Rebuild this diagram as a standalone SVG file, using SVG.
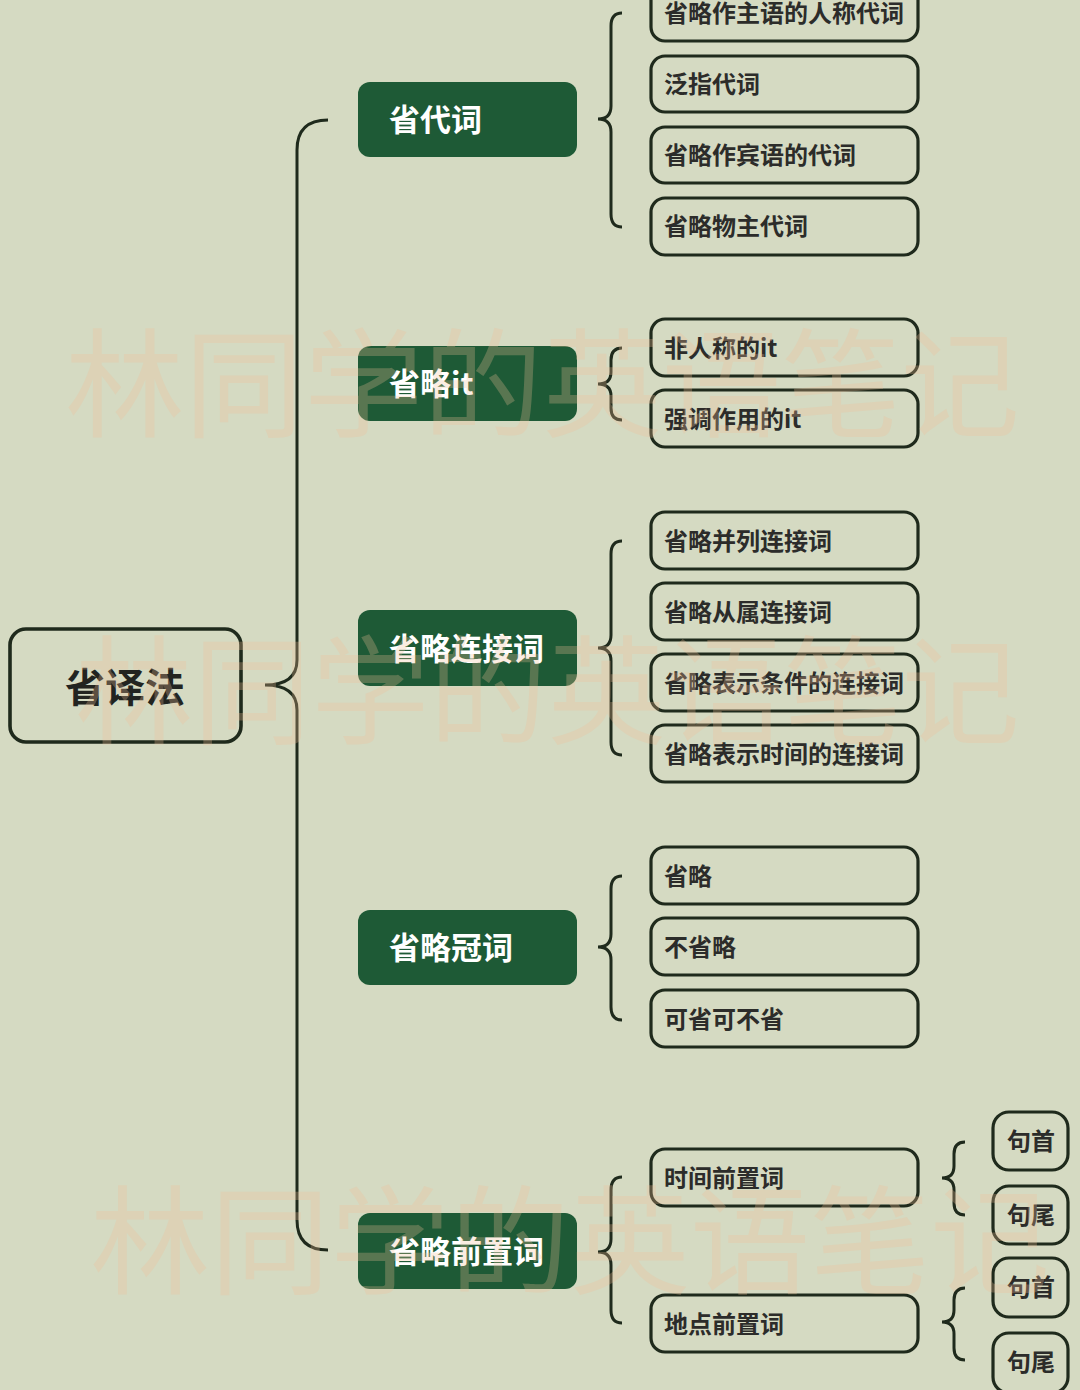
<svg xmlns="http://www.w3.org/2000/svg" width="1080" height="1390" viewBox="0 0 1080 1390">
<style>
.bg{fill:#d5dac2}
.l1 rect{fill:#1e5a36;stroke:none}
.l1 text{fill:#ffffff;font-family:"Noto Sans CJK SC","Noto Sans",sans-serif;font-weight:700;font-size:31px}
.leaf rect{fill:none;stroke:#1f2a1c;stroke-width:3.2}
.leaf text{fill:#2c2c2a;font-family:"Noto Sans CJK SC","Noto Sans",sans-serif;font-weight:700;font-size:24px}
.sub text{text-anchor:middle}
#connectors path{fill:none;stroke:#1f2a1c;stroke-width:3}
.wm{fill:#f2bf98;opacity:0.28;font-family:"Noto Sans CJK SC",sans-serif;font-weight:400;font-size:118px}
</style>
<rect class="bg" x="0" y="0" width="1080" height="1390"/>

<g id="connectors">
  <path d="M328,120 Q297,120 297,150 L297,660 Q297,685 265,685 Q297,685 297,710 L297,1220 Q297,1250 328,1250" stroke-width="3.6"/>
  <path d="M622,13 Q611,13 611,26 L611,106 Q611,119 598,119 Q611,119 611,132 L611,214 Q611,227 622,227"/>
  <path d="M622,348 Q611,348 611,360 L611,372 Q611,384 598,384 Q611,384 611,396 L611,408 Q611,420 622,420"/>
  <path d="M622,541 Q611,541 611,554 L611,635 Q611,648 598,648 Q611,648 611,661 L611,742 Q611,755 622,755"/>
  <path d="M622,876 Q611,876 611,889 L611,934 Q611,947 598,947 Q611,947 611,960 L611,1007 Q611,1020 622,1020"/>
  <path d="M622,1177 Q611,1177 611,1190 L611,1239 Q611,1252 598,1252 Q611,1252 611,1265 L611,1310 Q611,1323 622,1323"/>
  <path d="M965,1142 Q954,1142 954,1154 L954,1166 Q954,1178 942,1178 Q954,1178 954,1190 L954,1203 Q954,1215 965,1215"/>
  <path d="M965,1288 Q954,1288 954,1300 L954,1310 Q954,1322 942,1322 Q954,1322 954,1334 L954,1348 Q954,1360 965,1360"/>
</g>

<g id="root">
  <rect x="10" y="629" width="231" height="113" rx="16" fill="none" stroke="#1f2a1c" stroke-width="3.6"/>
  <text x="125" y="702" text-anchor="middle" fill="#222420" font-family="Noto Sans CJK SC, Noto Sans, sans-serif" font-weight="700" font-size="40">省译法</text>
</g>

<g id="n-daici" class="l1"><rect x="358" y="82" width="219" height="75" rx="12"/><text x="389" y="131">省代词</text></g>
<g id="n-it" class="l1"><rect x="358" y="346" width="219" height="75" rx="12"/><text x="389" y="395">省略it</text></g>
<g id="n-lianjie" class="l1"><rect x="358" y="610" width="219" height="76" rx="12"/><text x="389" y="660">省略连接词</text></g>
<g id="n-guanci" class="l1"><rect x="358" y="910" width="219" height="75" rx="12"/><text x="389" y="959">省略冠词</text></g>
<g id="n-qianzhi" class="l1"><rect x="358" y="1213" width="219" height="76" rx="12"/><text x="389" y="1263">省略前置词</text></g>

<g id="leaf1" class="leaf"><rect x="651" y="-16" width="267" height="57" rx="14"/><text x="664" y="22">省略作主语的人称代词</text></g>
<g id="leaf2" class="leaf"><rect x="651" y="56" width="267" height="56" rx="14"/><text x="664" y="93">泛指代词</text></g>
<g id="leaf3" class="leaf"><rect x="651" y="127" width="267" height="56" rx="14"/><text x="664" y="164">省略作宾语的代词</text></g>
<g id="leaf4" class="leaf"><rect x="651" y="198" width="267" height="57" rx="14"/><text x="664" y="235">省略物主代词</text></g>

<g id="leaf5" class="leaf"><rect x="651" y="319" width="267" height="57" rx="14"/><text x="664" y="357">非人称的it</text></g>
<g id="leaf6" class="leaf"><rect x="651" y="390" width="267" height="57" rx="14"/><text x="664" y="428">强调作用的it</text></g>

<g id="leaf7" class="leaf"><rect x="651" y="512" width="267" height="57" rx="14"/><text x="664" y="550">省略并列连接词</text></g>
<g id="leaf8" class="leaf"><rect x="651" y="583" width="267" height="57" rx="14"/><text x="664" y="621">省略从属连接词</text></g>
<g id="leaf9" class="leaf"><rect x="651" y="654" width="267" height="57" rx="14"/><text x="664" y="692">省略表示条件的连接词</text></g>
<g id="leaf10" class="leaf"><rect x="651" y="725" width="267" height="57" rx="14"/><text x="664" y="763">省略表示时间的连接词</text></g>

<g id="leaf11" class="leaf"><rect x="651" y="847" width="267" height="57" rx="14"/><text x="664" y="885">省略</text></g>
<g id="leaf12" class="leaf"><rect x="651" y="918" width="267" height="57" rx="14"/><text x="664" y="956">不省略</text></g>
<g id="leaf13" class="leaf"><rect x="651" y="990" width="267" height="57" rx="14"/><text x="664" y="1028">可省可不省</text></g>

<g id="leaf14" class="leaf"><rect x="651" y="1149" width="267" height="57" rx="14"/><text x="664" y="1187">时间前置词</text></g>
<g id="leaf15" class="leaf"><rect x="651" y="1295" width="267" height="57" rx="14"/><text x="664" y="1333">地点前置词</text></g>

<g id="sub1" class="leaf sub"><rect x="993" y="1112" width="75" height="58" rx="16"/><text x="1031" y="1150">句首</text></g>
<g id="sub2" class="leaf sub"><rect x="993" y="1186" width="75" height="58" rx="16"/><text x="1031" y="1224">句尾</text></g>
<g id="sub3" class="leaf sub"><rect x="993" y="1258" width="75" height="59" rx="16"/><text x="1031" y="1296">句首</text></g>
<g id="sub4" class="leaf sub"><rect x="993" y="1333" width="75" height="60" rx="16"/><text x="1031" y="1371">句尾</text></g>

<g id="watermark">
  <text class="wm" x="65" y="428" textLength="955" lengthAdjust="spacingAndGlyphs">林同学的英语笔记</text>
  <text class="wm" x="75" y="735" textLength="945" lengthAdjust="spacingAndGlyphs">林同学的英语笔记</text>
  <text class="wm" x="90" y="1285" textLength="960" lengthAdjust="spacingAndGlyphs">林同学的英语笔记</text>
</g>
</svg>
